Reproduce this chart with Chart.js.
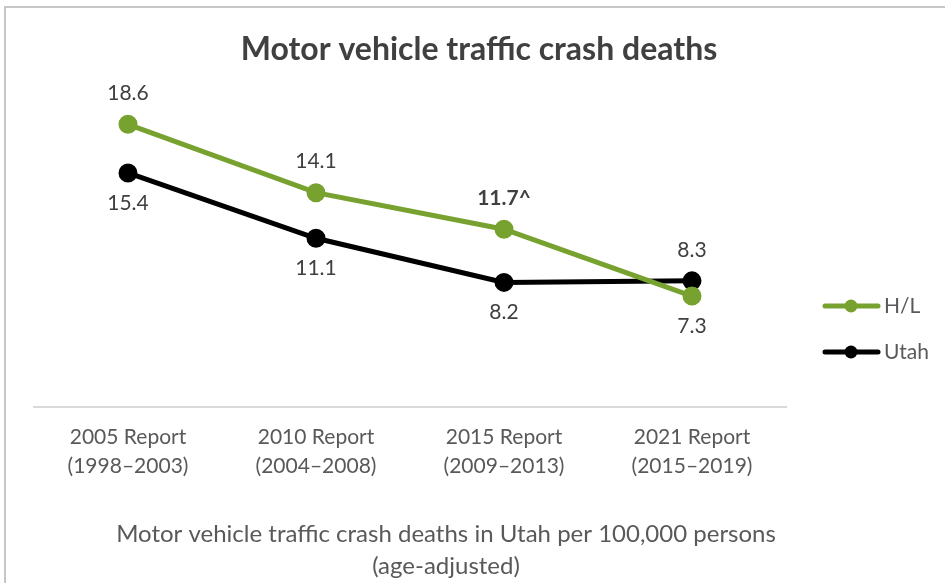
<!DOCTYPE html>
<html>
<head>
<meta charset="utf-8">
<script src="https://cdn.jsdelivr.net/npm/chart.js@4/dist/chart.umd.min.js"></script>
<style>
  html, body { margin: 0; padding: 0; background: #ffffff; overflow: hidden; }
  #wrap { position: relative; width: 945px; height: 583px; }
  #frame { position: absolute; left: 4px; top: 6px; width: 1000px; height: 1000px; border: 2px solid #c6c6c6; box-sizing: border-box; }
  #c { position: absolute; left: 0; top: 0; }
</style>
</head>
<body>
<div id="wrap">
  <div id="frame"></div>
  <canvas id="c" width="945" height="583"></canvas>
</div>
<script>
// ---- data ----
const categories = [
  ["2005 Report", "(1998\u20132003)"],
  ["2010 Report", "(2004\u20132008)"],
  ["2015 Report", "(2009\u20132013)"],
  ["2021 Report", "(2015\u20132019)"]
];
const hlValues = [18.6, 14.1, 11.7, 7.3];
const utahValues = [15.4, 11.1, 8.2, 8.3];
const hlNotes = ["", "", "^", ""];
const utahNotes = ["", "", "", ""];
const seriesNames = ["H/L", "Utah"];
const chartTitle = "Motor vehicle traffic crash deaths";
const axisTitle = ["Motor vehicle traffic crash deaths in Utah per 100,000 persons", "(age-adjusted)"];

// label placement (style, not data)
const hlSide = ["above", "above", "above", "below"];
const utahSide = ["below", "below", "below", "above"];

const FONT = "Lato, 'Open Sans', sans-serif";
const GREEN = "#78a22f";
const BLACK = "#000000";

const textPlugin = {
  id: "textPlugin",
  afterDatasetsDraw(chart) {
    const ctx = chart.ctx;
    ctx.save();
    const sides = [hlSide, utahSide];
    const notes = [hlNotes, utahNotes];
    chart.data.datasets.forEach((ds, di) => {
      const meta = chart.getDatasetMeta(di);
      meta.data.forEach((pt, i) => {
        const note = notes[di][i];
        const txt = ds.data[i].toFixed(1) + note;
        ctx.font = (note ? "bold " : "") + "21px " + FONT;
        ctx.fillStyle = "#404040";
        ctx.textAlign = "center";
        ctx.textBaseline = "middle";
        const off = sides[di][i] === "above" ? -31 : 30;
        ctx.fillText(txt, pt.x, pt.y + off);
      });
    });
    // title
    ctx.font = "bold 32px " + FONT;
    ctx.fillStyle = "#404040";
    ctx.textAlign = "center";
    ctx.textBaseline = "middle";
    ctx.fillText(chartTitle, 479, 50);
    // axis title
    ctx.font = "24px " + FONT;
    ctx.fillStyle = "#595959";
    ctx.fillText(axisTitle[0], 446, 534);
    ctx.fillText(axisTitle[1], 446, 566);
    // legend
    chart.data.datasets.forEach((ds, di) => {
      const y = 306 + di * 46;
      ctx.strokeStyle = ds.borderColor;
      ctx.lineWidth = 5;
      ctx.lineCap = "round";
      ctx.beginPath();
      ctx.moveTo(825, y);
      ctx.lineTo(878, y);
      ctx.stroke();
      ctx.fillStyle = ds.borderColor;
      ctx.beginPath();
      ctx.arc(851, y, 6.5, 0, Math.PI * 2);
      ctx.fill();
      ctx.font = "21px " + FONT;
      ctx.fillStyle = "#595959";
      ctx.textAlign = "left";
      ctx.fillText(ds.label, 884, y);
      ctx.textAlign = "center";
    });
    ctx.restore();
  }
};

new Chart(document.getElementById("c"), {
  type: "line",
  data: {
    labels: categories,
    datasets: [
      { label: seriesNames[0], data: hlValues, borderColor: GREEN, backgroundColor: GREEN,
        pointBackgroundColor: GREEN, pointBorderColor: GREEN, borderWidth: 5, pointRadius: 7, tension: 0 },
      { label: seriesNames[1], data: utahValues, borderColor: BLACK, backgroundColor: BLACK,
        pointBackgroundColor: BLACK, pointBorderColor: BLACK, borderWidth: 5, pointRadius: 7, tension: 0 }
    ]
  },
  options: {
    responsive: false,
    animation: false,
    devicePixelRatio: 1,
    layout: { padding: { left: 34, right: 159, top: 103, bottom: 86 } },
    plugins: { legend: { display: false }, title: { display: false }, tooltip: { enabled: false } },
    scales: {
      x: {
        offset: true,
        grid: { display: false, drawTicks: false },
        border: { display: true, color: "#d9d9d9", width: 2 },
        ticks: { color: "#595959", font: { family: FONT, size: 21, lineHeight: 1.38 }, padding: 16, maxRotation: 0, autoSkip: false }
      },
      y: { display: false, min: 0, max: 20 }
    }
  },
  plugins: [textPlugin]
});
</script>
</body>
</html>
